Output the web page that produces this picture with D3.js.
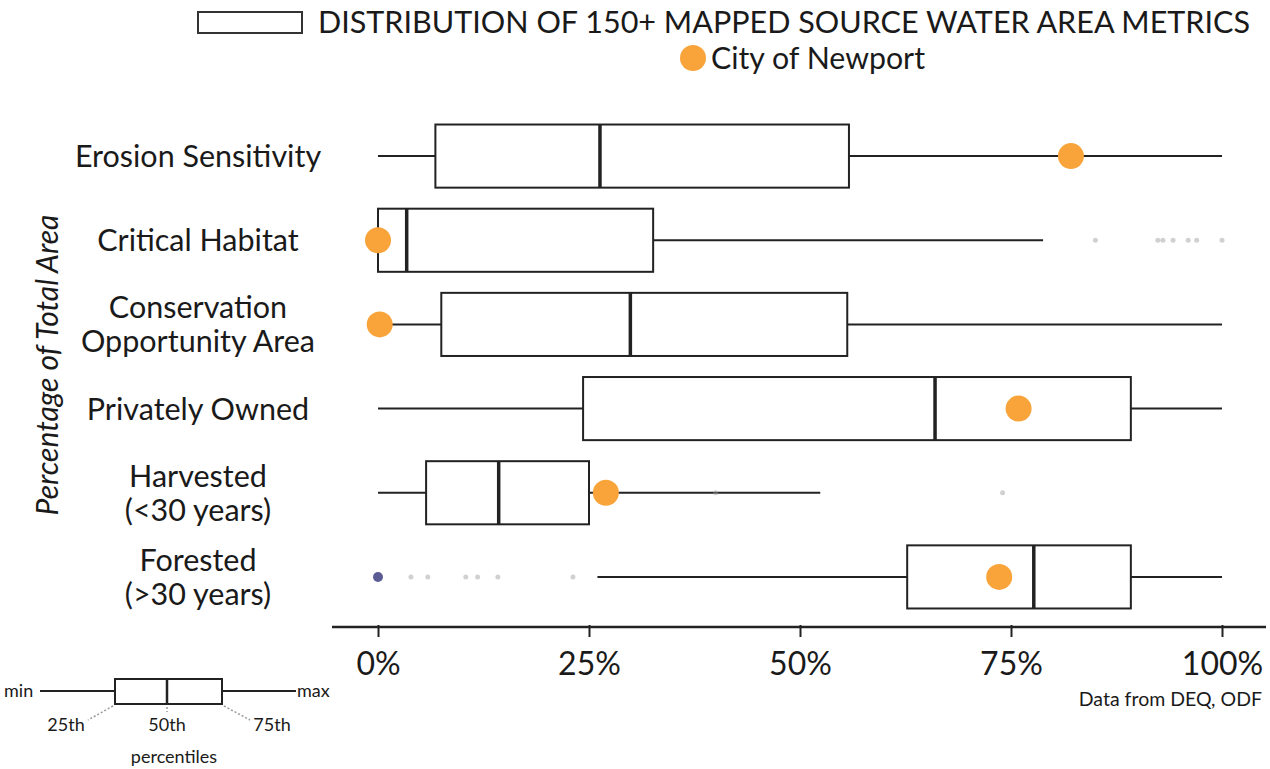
<!DOCTYPE html>
<html><head><meta charset="utf-8">
<script src="https://cdn.jsdelivr.net/npm/d3@7"></script>
<style>body{margin:0;background:#fff;} svg{display:block;} text{font-family:Lato,"Open Sans",sans-serif;fill:#1a1a1a;}</style>
</head><body>
<svg id="c" width="1270" height="769"></svg>
<script>
const categories = ["Erosion Sensitivity","Critical Habitat","Conservation\nOpportunity Area","Privately Owned","Harvested\n(<30 years)","Forested\n(>30 years)"];
const minVals    = [0, 0, 0, 0, 0, 26];
const q1Vals     = [6.8, 0, 7.5, 24.3, 5.7, 62.7];
const medianVals = [26.3, 3.4, 29.9, 66.0, 14.3, 77.7];
const q3Vals     = [55.8, 32.6, 55.6, 89.2, 25.0, 89.2];
const maxVals    = [100, 78.8, 100, 100, 52.4, 100];
const newportVals = [82.1, 0, 0.2, 75.9, 27.0, 73.6];
const outlierVals = [[], [85, 92.4, 93, 94.2, 96, 97, 100], [], [], [40, 74], [0, 3.9, 5.9, 10.4, 11.8, 14.2, 23.1]];
const tickVals = [0, 25, 50, 75, 100];
const tickLabels = ["0%","25%","50%","75%","100%"];

const svg = d3.select("#c");
const x = d3.scaleLinear().domain([0,100]).range([378,1222]);
const y = d3.scaleBand().domain(categories).range([114,619]).paddingInner(0.25).paddingOuter(0.125);
const bh = y.bandwidth();
const stroke = "#222";
const orange = "#F9A43A";

// axis
const ax = svg.append("g").attr("transform","translate(0,627)")
  .call(d3.axisBottom(x).tickValues(tickVals).tickFormat((d,i)=>tickLabels[i]).tickSize(12).tickPadding(13));
ax.select(".domain").remove();
ax.selectAll(".tick line").attr("stroke",stroke).attr("stroke-width",2).attr("y1",-2).attr("y2",10);
ax.selectAll(".tick text").style("font-size","32px").attr("fill","#1a1a1a").style("font-family","Lato,sans-serif");
svg.append("line").attr("x1",332).attr("x2",1266).attr("y1",627).attr("y2",627).attr("stroke",stroke).attr("stroke-width",2.5);

categories.forEach((c,i)=>{
  const cy = y(c) + bh/2;
  const g = svg.append("g");
  g.append("line").attr("x1",x(minVals[i])).attr("x2",x(q1Vals[i])).attr("y1",cy).attr("y2",cy).attr("stroke",stroke).attr("stroke-width",2);
  g.append("line").attr("x1",x(q3Vals[i])).attr("x2",x(maxVals[i])).attr("y1",cy).attr("y2",cy).attr("stroke",stroke).attr("stroke-width",2);
  g.append("rect").attr("x",x(q1Vals[i])).attr("y",y(c)).attr("width",x(q3Vals[i])-x(q1Vals[i])).attr("height",bh)
    .attr("fill","#fff").attr("stroke",stroke).attr("stroke-width",2);
  g.append("line").attr("x1",x(medianVals[i])).attr("x2",x(medianVals[i])).attr("y1",y(c)).attr("y2",y(c)+bh).attr("stroke",stroke).attr("stroke-width",3.5);
  outlierVals[i].forEach((v)=>{
    const isBlue = (i===5 && v===0);
    g.append("circle").attr("cx",x(v)).attr("cy",cy).attr("r",isBlue?5:2.5)
      .attr("fill",isBlue?"#4a4a8a":"#999").attr("opacity",isBlue?0.9:0.45);
  });
  g.append("circle").attr("cx",x(newportVals[i])).attr("cy",cy).attr("r",13).attr("fill",orange);
  const lines = c.split("\n");
  lines.forEach((l,k)=>{
    svg.append("text").attr("x",198).attr("text-anchor","middle").style("font-size","30.5px")
      .attr("y",cy + 11 + (k - (lines.length-1)/2)*34).text(l);
  });
});

// y title
svg.append("text").attr("transform","translate(58,365) rotate(-90)").attr("text-anchor","middle")
  .style("font-size","30px").style("font-style","italic").text("Percentage of Total Area");

// legend
svg.append("rect").attr("x",198).attr("y",12).attr("width",104).attr("height",21).attr("fill","#fff").attr("stroke","#333").attr("stroke-width",2);
svg.append("text").attr("x",318).attr("y",33).style("font-size","30px").attr("textLength",932).attr("lengthAdjust","spacingAndGlyphs")
  .text("DISTRIBUTION OF 150+  MAPPED SOURCE WATER AREA METRICS");
svg.append("circle").attr("cx",693).attr("cy",58).attr("r",13).attr("fill",orange);
svg.append("text").attr("x",711).attr("y",69).style("font-size","30px").attr("textLength",214).attr("lengthAdjust","spacingAndGlyphs").text("City of Newport");

// source
svg.append("text").attr("x",1262).attr("y",706).attr("text-anchor","end").style("font-size","19.5px").text("Data from DEQ, ODF");

// key
const kg = svg.append("g");
kg.append("line").attr("x1",40).attr("x2",115).attr("y1",691).attr("y2",691).attr("stroke",stroke).attr("stroke-width",2);
kg.append("line").attr("x1",222).attr("x2",296).attr("y1",691).attr("y2",691).attr("stroke",stroke).attr("stroke-width",2);
kg.append("rect").attr("x",115).attr("y",679).attr("width",107).attr("height",25).attr("fill","#fff").attr("stroke",stroke).attr("stroke-width",2);
kg.append("line").attr("x1",167).attr("x2",167).attr("y1",679).attr("y2",704).attr("stroke",stroke).attr("stroke-width",2.5);
kg.append("line").attr("x1",113).attr("y1",706).attr("x2",88).attr("y2",720).attr("stroke","#999").attr("stroke-width",1.5).attr("stroke-dasharray","2,2");
kg.append("line").attr("x1",224).attr("y1",706).attr("x2",250).attr("y2",720).attr("stroke","#999").attr("stroke-width",1.5).attr("stroke-dasharray","2,2");
kg.append("line").attr("x1",167).attr("y1",707).attr("x2",167).attr("y2",712).attr("stroke","#999").attr("stroke-width",1.5).attr("stroke-dasharray","2,2");
const kt = (tx,ty,s,a)=>kg.append("text").attr("x",tx).attr("y",ty).attr("text-anchor",a||"start").style("font-size","18px").text(s);
kt(4,697,"min"); kt(297,697,"max"); kt(66,731,"25th","middle"); kt(167,731,"50th","middle"); kt(272,731,"75th","middle"); kt(174,763,"percentiles","middle");
</script>
</body></html>
